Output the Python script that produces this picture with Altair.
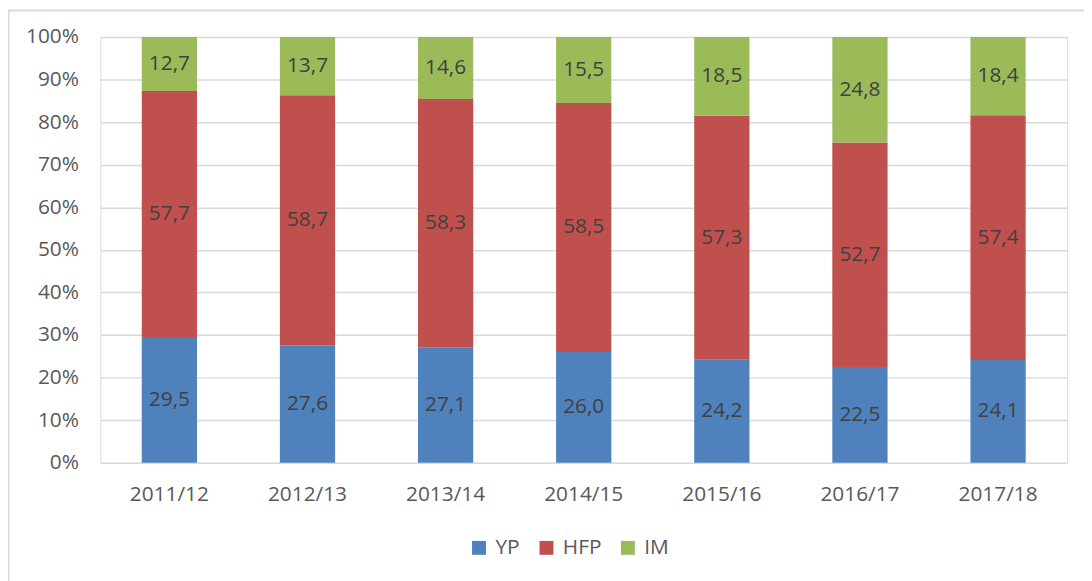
import altair as alt
import pandas as pd

years = ["2011/12", "2012/13", "2013/14", "2014/15", "2015/16", "2016/17", "2017/18"]
series = ["YP", "HFP", "IM"]
yp = [29.5, 27.6, 27.1, 26.0, 24.2, 22.5, 24.1]
hfp = [57.7, 58.7, 58.3, 58.5, 57.3, 52.7, 57.4]
im = [12.7, 13.7, 14.6, 15.5, 18.5, 24.8, 18.4]
colors = ["#4f81bd", "#c0504d", "#9bbb59"]
y_ticks = [0, 0.1, 0.2, 0.3, 0.4, 0.5, 0.6, 0.7, 0.8, 0.9, 1.0]

rows = []
for i, y in enumerate(years):
    for k, (name, vals) in enumerate(zip(series, [yp, hfp, im])):
        rows.append({"year": y, "series": name, "order": k, "value": vals[i],
                     "label": f"{vals[i]:.1f}".replace(".", ",")})
df = pd.DataFrame(rows)

FONT = "Open Sans"
FS = 21
W, H = 974, 429
TOP = 27

base = alt.Chart(df).transform_stack(
    stack="value", as_=["y0", "y1"], groupby=["year"],
    sort=[alt.SortField("order")], offset="normalize"
).transform_calculate(mid="(datum.y0 + datum.y1) / 2")

x_enc = alt.X("year:N", sort=years, title=None,
              scale=alt.Scale(paddingInner=0.6, paddingOuter=0.3),
              axis=alt.Axis(labelAngle=0, labelFontSize=FS, labelFont=FONT,
                            labelColor="#595959", domain=False, ticks=False,
                            labelPadding=21, grid=False))

bars = base.mark_bar().encode(
    x=x_enc,
    y=alt.Y("y0:Q", title=None,
            scale=alt.Scale(domain=[0, 1], nice=False),
            axis=alt.Axis(values=y_ticks, format=".0%", labelFontSize=FS,
                          labelFont=FONT, labelColor="#595959", domain=False,
                          ticks=False, labelPadding=22, grid=True,
                          gridColor="#d9d9d9", gridWidth=1.5)),
    y2="y1:Q",
    color=alt.Color("series:N",
                    scale=alt.Scale(domain=series, range=colors),
                    legend=alt.Legend(title=None, orient="none", legendX=371,
                                      legendY=504, direction="horizontal",
                                      symbolType="square", symbolSize=196,
                                      symbolStrokeWidth=0, labelFontSize=FS,
                                      labelFont=FONT, labelColor="#595959",
                                      columnPadding=16, labelOffset=6)),
    order=alt.Order("order:Q"),
)

text = base.mark_text(fontSize=FS, font=FONT, color="#404040").encode(
    x=alt.X("year:N", sort=years),
    y=alt.Y("mid:Q"),
    text="label:N",
)

border_top = alt.Chart(pd.DataFrame({"a": [0]})).mark_rule(
    color="#d9d9d9", strokeWidth=2).encode(
    x=alt.value(-93), x2=alt.value(W + 20), y=alt.value(-TOP + 0.5))
border_left = alt.Chart(pd.DataFrame({"a": [0]})).mark_rule(
    color="#d9d9d9", strokeWidth=2).encode(
    x=alt.value(-92.5), y=alt.value(-TOP), y2=alt.value(H + 130))

chart = alt.layer(border_top, border_left, bars, text).properties(
    width=W, height=H,
    autosize=alt.AutoSizeParams(type="none"),
    padding={"left": 93, "top": TOP, "right": 17, "bottom": 573 - TOP - H},
).configure_view(stroke=None).configure(background="white")

chart.save("out.html", embed_options={"renderer": "svg", "actions": False})
